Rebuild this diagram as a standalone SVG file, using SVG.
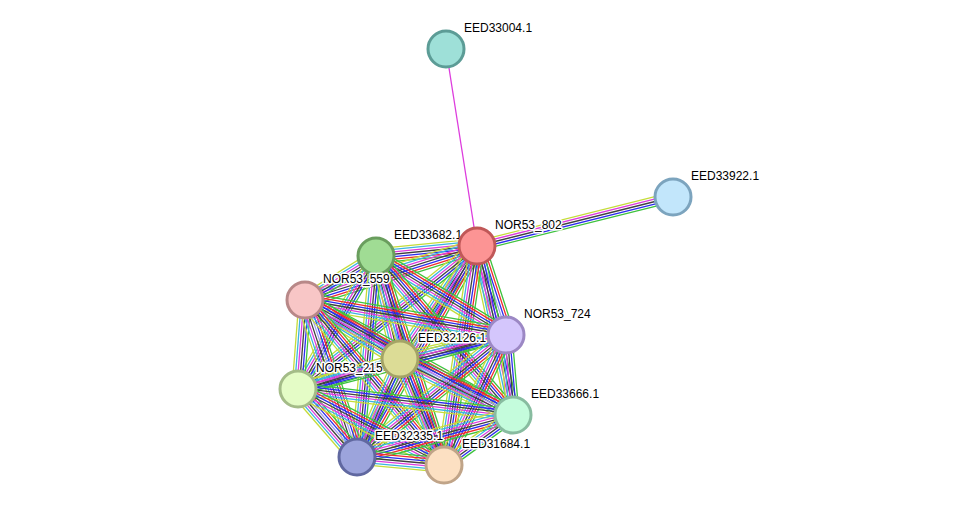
<svg xmlns="http://www.w3.org/2000/svg" xmlns:xlink="http://www.w3.org/1999/xlink" width="976" height="511" viewBox="0 0 976 511">
<style>
line{stroke-width:1.3;fill:none}
.cg{stroke:#3ec23e}.cr{stroke:#f02c2c}.cb{stroke:#2c2cf0}.ck{stroke:#404040}
.cm{stroke:#dd3cdd}.cc{stroke:#3cb4e0}.cy{stroke:#c4dc3a}.cl{stroke:#a0a0f0}
circle{stroke-width:3}
text{font-family:"Liberation Sans",Arial,sans-serif;font-size:12px;fill:#000;stroke:#fff;stroke-width:3;stroke-linejoin:round;paint-order:stroke}
</style>
<defs>
<g id="s6">
<line x1="0" x2="1" y1="-6" y2="-6" class="cg"/>
<line x1="0" x2="1" y1="-3.6" y2="-3.6" class="cb"/>
<line x1="0" x2="1" y1="-1.2" y2="-1.2" class="ck"/>
<line x1="0" x2="1" y1="1.2" y2="1.2" class="cm"/>
<line x1="0" x2="1" y1="3.6" y2="3.6" class="cc"/>
<line x1="0" x2="1" y1="6" y2="6" class="cy"/>
</g>
<g id="s7">
<line x1="0" x2="1" y1="-7.2" y2="-7.2" class="cg"/>
<line x1="0" x2="1" y1="-4.8" y2="-4.8" class="cr"/>
<line x1="0" x2="1" y1="-2.4" y2="-2.4" class="cb"/>
<line x1="0" x2="1" y1="0" y2="0" class="ck"/>
<line x1="0" x2="1" y1="2.4" y2="2.4" class="cm"/>
<line x1="0" x2="1" y1="4.8" y2="4.8" class="cc"/>
<line x1="0" x2="1" y1="7.2" y2="7.2" class="cy"/>
</g>
<g id="s8">
<line x1="0" x2="1" y1="-8.4" y2="-8.4" class="cg"/>
<line x1="0" x2="1" y1="-6" y2="-6" class="cr"/>
<line x1="0" x2="1" y1="-3.6" y2="-3.6" class="cb"/>
<line x1="0" x2="1" y1="-1.2" y2="-1.2" class="cl"/>
<line x1="0" x2="1" y1="1.2" y2="1.2" class="ck"/>
<line x1="0" x2="1" y1="3.6" y2="3.6" class="cm"/>
<line x1="0" x2="1" y1="6" y2="6" class="cc"/>
<line x1="0" x2="1" y1="8.4" y2="8.4" class="cy"/>
</g>
<g id="s5k">
<line x1="0" x2="1" y1="-4.8" y2="-4.8" class="cy"/>
<line x1="0" x2="1" y1="-2.4" y2="-2.4" class="cm"/>
<line x1="0" x2="1" y1="0" y2="0" class="ck"/>
<line x1="0" x2="1" y1="2.4" y2="2.4" class="cb"/>
<line x1="0" x2="1" y1="4.8" y2="4.8" class="cg"/>
</g>
</defs>
<rect width="976" height="511" fill="#fff"/>
<g id="edges">
<line x1="477" y1="246" x2="446" y2="49" class="cm"/>
<use xlink:href="#s5k" transform="matrix(196,-49,0.243,0.970,477,246)"/>
<use xlink:href="#s7" transform="matrix(-101,10,-0.099,-0.995,477,246)"/>
<use xlink:href="#s7" transform="matrix(-172,54,-0.300,-0.954,477,246)"/>
<use xlink:href="#s8" transform="matrix(29,89,-0.951,0.310,477,246)"/>
<use xlink:href="#s7" transform="matrix(-77,113,-0.827,-0.563,477,246)"/>
<use xlink:href="#s6" transform="matrix(-179,143,-0.624,-0.781,477,246)"/>
<use xlink:href="#s6" transform="matrix(36,169,-0.978,0.208,477,246)"/>
<use xlink:href="#s7" transform="matrix(-120,211,-0.869,-0.494,477,246)"/>
<use xlink:href="#s7" transform="matrix(-33,219,-0.989,-0.149,477,246)"/>
<use xlink:href="#s6" transform="matrix(-71,44,-0.527,-0.850,376,256)"/>
<use xlink:href="#s7" transform="matrix(130,79,-0.519,0.855,376,256)"/>
<use xlink:href="#s8" transform="matrix(24,103,-0.974,0.227,376,256)"/>
<use xlink:href="#s6" transform="matrix(-78,133,-0.863,-0.506,376,256)"/>
<use xlink:href="#s7" transform="matrix(137,159,-0.757,0.653,376,256)"/>
<use xlink:href="#s6" transform="matrix(-19,201,-0.996,-0.094,376,256)"/>
<use xlink:href="#s7" transform="matrix(68,209,-0.951,0.309,376,256)"/>
<use xlink:href="#s7" transform="matrix(201,35,-0.172,0.985,305,300)"/>
<use xlink:href="#s8" transform="matrix(95,59,-0.528,0.850,305,300)"/>
<use xlink:href="#s6" transform="matrix(-7,89,-0.997,-0.078,305,300)"/>
<use xlink:href="#s7" transform="matrix(208,115,-0.484,0.875,305,300)"/>
<use xlink:href="#s8" transform="matrix(52,157,-0.949,0.314,305,300)"/>
<use xlink:href="#s7" transform="matrix(139,165,-0.765,0.644,305,300)"/>
<use xlink:href="#s6" transform="matrix(-106,24,-0.221,-0.975,506,335)"/>
<use xlink:href="#s6" transform="matrix(-208,54,-0.251,-0.968,506,335)"/>
<use xlink:href="#s6" transform="matrix(7,80,-0.996,0.087,506,335)"/>
<use xlink:href="#s7" transform="matrix(-149,122,-0.633,-0.774,506,335)"/>
<use xlink:href="#s7" transform="matrix(-62,130,-0.903,-0.431,506,335)"/>
<use xlink:href="#s6" transform="matrix(-102,30,-0.282,-0.960,400,359)"/>
<use xlink:href="#s8" transform="matrix(113,56,-0.444,0.896,400,359)"/>
<use xlink:href="#s6" transform="matrix(-43,98,-0.916,-0.402,400,359)"/>
<use xlink:href="#s7" transform="matrix(44,106,-0.923,0.383,400,359)"/>
<use xlink:href="#s6" transform="matrix(215,26,-0.120,0.993,298,389)"/>
<use xlink:href="#s8" transform="matrix(59,68,-0.756,0.656,298,389)"/>
<use xlink:href="#s7" transform="matrix(146,76,-0.462,0.887,298,389)"/>
<use xlink:href="#s7" transform="matrix(-156,42,-0.260,-0.965,513,415)"/>
<use xlink:href="#s6" transform="matrix(-69,50,-0.587,-0.810,513,415)"/>
<use xlink:href="#s7" transform="matrix(87,8,-0.092,0.995,357,457)"/>
</g>
<g id="EED33004.1"><circle cx="446" cy="49" r="18" fill="#9ee0d8" stroke="#5c9c96"/><text x="464" y="32">EED33004.1</text></g>
<g id="EED33922.1"><circle cx="673" cy="197" r="18" fill="#c2e6fb" stroke="#7ca4be"/><text x="691" y="180">EED33922.1</text></g>
<g id="EED33682.1"><circle cx="376" cy="256" r="18" fill="#a0dc94" stroke="#6a9e5e"/><text x="394" y="239">EED33682.1</text></g>
<g id="NOR53_802"><circle cx="477" cy="246" r="18" fill="#fc9494" stroke="#c05858"/><text x="495" y="229">NOR53_802</text></g>
<g id="NOR53_559"><circle cx="305" cy="300" r="18" fill="#f8c6c6" stroke="#b88888"/><text x="323" y="283">NOR53_559</text></g>
<g id="NOR53_215"><circle cx="298" cy="389" r="18" fill="#e4fcc6" stroke="#a4bc88"/><text x="316" y="372">NOR53_215</text></g>
<g id="EED32126.1"><circle cx="400" cy="359" r="18" fill="#dcdc96" stroke="#a4a466"/><text x="418" y="342">EED32126.1</text></g>
<g id="NOR53_724"><circle cx="506" cy="335" r="18" fill="#d4c6fc" stroke="#9c88c4"/><text x="524" y="318">NOR53_724</text></g>
<g id="EED33666.1"><circle cx="513" cy="415" r="18" fill="#c4fcdc" stroke="#88bca0"/><text x="531" y="398">EED33666.1</text></g>
<g id="EED32335.1"><circle cx="357" cy="457" r="18" fill="#9ca4dc" stroke="#6068a0"/><text x="375" y="440">EED32335.1</text></g>
<g id="EED31684.1"><circle cx="444" cy="465" r="18" fill="#fce0c2" stroke="#c0a488"/><text x="462" y="448">EED31684.1</text></g>
</svg>
